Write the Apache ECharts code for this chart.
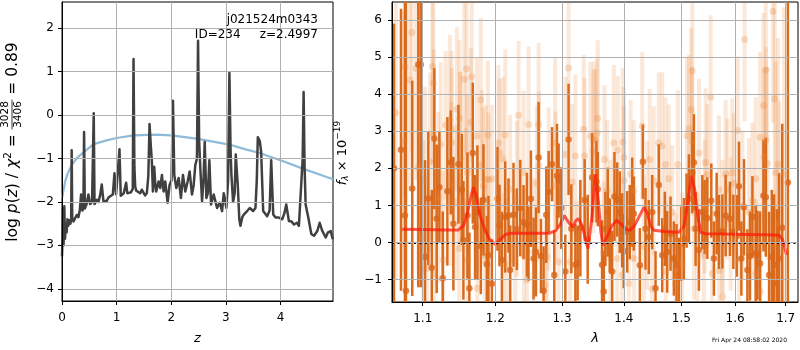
<!DOCTYPE html>
<html><head><meta charset="utf-8">
<script src="https://cdn.jsdelivr.net/npm/echarts@6/dist/echarts.min.js"></script>
<style>html,body{margin:0;padding:0;background:#fff}#c{width:800px;height:350px}</style>
</head><body><div id="c"></div><script>
const FONT = 'DejaVu Sans';

// ---------- left panel: log p(z) ----------
const zGrid = [0.000,0.008,0.018,0.028,0.042,0.055,0.07,0.085,0.10,0.115,0.135,0.155,0.168,0.177,0.187,0.21,0.239,0.27,0.30,0.325,0.349,0.373,0.392,0.404,0.418,0.45,0.483,0.514,0.55,0.567,0.581,0.595,0.636,0.667,0.697,0.728,0.758,0.79,0.82,0.85,0.88,0.93,0.96,0.99,1.02,1.052,1.075,1.095,1.13,1.156,1.174,1.195,1.217,1.26,1.295,1.309,1.325,1.34,1.358,1.39,1.431,1.46,1.492,1.52,1.553,1.58,1.602,1.625,1.645,1.664,1.688,1.705,1.725,1.768,1.798,1.829,1.859,1.89,1.933,1.969,2.005,2.031,2.055,2.092,2.135,2.177,2.214,2.257,2.3,2.336,2.379,2.41,2.44,2.47,2.49,2.51,2.532,2.563,2.59,2.612,2.642,2.67,2.697,2.728,2.777,2.838,2.887,2.93,2.96,3.009,3.04,3.064,3.085,3.101,3.131,3.16,3.18,3.217,3.245,3.266,3.3,3.327,3.388,3.437,3.498,3.541,3.565,3.584,3.62,3.645,3.682,3.755,3.8,3.829,3.866,3.908,3.97,4.031,4.073,4.104,4.153,4.2,4.245,4.3,4.336,4.367,4.405,4.422,4.44,4.459,4.508,4.563,4.612,4.673,4.716,4.765,4.826,4.869,4.918,4.948,4.96];
const logPz = [-3.25,-2.9,-2.15,-3.0,-2.1,-2.85,-2.5,-2.7,-2.4,-2.55,-2.42,-2.5,-2.4,-0.81,-2.35,-2.45,-2.42,-2.3,-2.35,-2.2,-1.83,-2.2,-2.1,-0.39,-2.15,-2.05,-1.83,-2.05,-2.0,-2.02,0.04,-2.05,-1.95,-2.0,-1.85,-1.6,-1.98,-1.95,-1.98,-1.9,-1.9,-1.83,-1.34,-1.83,-1.85,-0.79,-1.86,-1.86,-1.8,-1.77,-1.56,-1.8,-1.8,-1.78,-1.7,1.29,-1.2,-1.65,-1.74,-1.78,-1.8,-1.72,-1.68,-1.85,-1.8,-1.4,-0.21,-0.7,-1.08,-1.76,-1.19,-1.55,-1.76,-1.53,-1.68,-1.38,-1.76,-1.53,-2.02,-1.61,-1.5,0.33,-1.38,-1.68,-1.45,-1.91,-1.38,-1.76,-1.53,-1.30,-1.83,-1.61,-1.15,-1.0,1.71,-0.6,-1.23,-1.98,-1.5,-0.62,-1.91,-1.8,-1.04,-2.06,-1.83,-2.14,-2.02,-2.21,-1.80,-2.14,-1.5,0.97,-0.8,-1.38,-2.0,-1.8,-0.91,-1.61,-2.4,-2.55,-2.35,-2.29,-2.21,-2.14,-2.21,-2.14,-1.5,-0.51,-0.6,-0.85,-2.21,-2.33,-2.2,-1.04,-2.29,-2.36,-2.36,-2.40,-2.25,-2.06,-2.44,-2.45,-2.52,-2.48,-2.55,-2.59,-1.0,0.53,-1.2,-2.06,-2.36,-2.74,-2.78,-2.67,-2.48,-2.67,-2.82,-2.70,-2.67,-2.82,-2.86];
const zPrior = [0,0.024,0.06,0.1,0.177,0.28,0.404,0.58,0.8,1.0,1.31,1.71,2.0,2.49,3.06,3.36,3.6,4.0,4.42,4.96];
const logPrior = [-1.91,-1.76,-1.52,-1.36,-1.15,-0.98,-0.85,-0.67,-0.59,-0.53,-0.47,-0.45,-0.47,-0.55,-0.68,-0.79,-0.87,-1.04,-1.24,-1.48];
const zTicks = [0,1,2,3,4];
const pzTicks = [-4,-3,-2,-1,0,1,2];

// ---------- right panel: spectrum ----------
const lamTicks = [1.1,1.2,1.3,1.4,1.5,1.6,1.7];
const fluxTicks = [-1,0,1,2,3,4,5,6];
const modelLam = [1.0733,1.10,1.13,1.148,1.155,1.160,1.165,1.169,1.173,1.178,1.185,1.192,1.200,1.208,1.215,1.222,1.25,1.28,1.29,1.2975,1.3035,1.310,1.317,1.322,1.326,1.332,1.337,1.341,1.347,1.353,1.358,1.362,1.3657,1.372,1.380,1.388,1.397,1.405,1.410,1.418,1.426,1.434,1.440,1.446,1.4514,1.47,1.4956,1.505,1.5136,1.518,1.524,1.530,1.535,1.545,1.58,1.62,1.66,1.6866,1.693,1.698,1.702];
const modelFlux = [0.36,0.35,0.34,0.34,0.45,0.75,1.2,1.49,1.25,0.75,0.35,0.08,-0.05,0.1,0.22,0.25,0.25,0.25,0.32,0.5,0.73,0.55,0.42,0.6,0.64,0.45,0.1,-0.16,0.6,1.84,1.1,0.3,-0.07,0.15,0.45,0.6,0.48,0.35,0.33,0.45,0.7,0.95,0.8,0.45,0.33,0.3,0.28,0.45,1.3,1.8,1.45,0.7,0.28,0.24,0.23,0.22,0.21,0.2,0.1,-0.15,-0.34];

const darkLam = [1.0627,1.0717,1.0768,1.0781,1.0863,1.0942,1.0974,1.1030,1.1074,1.1120,1.1154,1.1186,1.1222,1.1267,1.1330,1.1376,1.1412,1.1481,1.1528,1.1550,1.1606,1.1633,1.1681,1.1713,1.1746,1.1794,1.1831,1.1879,1.1902,1.1951,1.2032,1.2061,1.2096,1.2144,1.2192,1.2217,1.2265,1.2315,1.2365,1.2414,1.2464,1.2488,1.2524,1.2564,1.2600,1.2640,1.2676,1.2716,1.2757,1.2793,1.2845,1.2880,1.2922,1.2947,1.2989,1.3052,1.3103,1.3146,1.3210,1.3246,1.3289,1.3358,1.3407,1.3478,1.3548,1.3569,1.3640,1.3667,1.3694,1.3733,1.3766,1.3806,1.3844,1.3889,1.3932,1.3973,1.4000,1.4057,1.4101,1.4142,1.4169,1.4272,1.4323,1.4369,1.4426,1.4485,1.4543,1.4600,1.4660,1.4706,1.4748,1.4807,1.4866,1.4914,1.4956,1.4999,1.5046,1.5095,1.5137,1.5199,1.5228,1.5259,1.5320,1.5383,1.5425,1.5475,1.5549,1.5598,1.5649,1.5692,1.5757,1.5819,1.5901,1.5966,1.6030,1.6074,1.6120,1.6171,1.6237,1.6288,1.6335,1.6400,1.6434,1.6485,1.6553,1.6599,1.6665,1.6719,1.6765,1.6820,1.6866,1.6930,1.7045];
const darkFlux = [2.0,2.5,0.73,-1.3,1.46,4.8,4.8,-0.38,1.19,-0.68,2.80,0.64,1.49,-0.96,1.38,2.16,0.51,2.11,1.43,0.06,0.73,-1.23,2.41,0.42,0.82,-0.09,1.15,-0.58,-0.34,-1.11,1.18,0.46,-0.47,0.69,0.73,-0.74,0.75,0.36,0.93,0.55,0.48,-0.03,1.18,-0.43,-0.25,2.29,-0.36,-1.30,0.75,1.37,2.11,-0.87,1.80,1.67,0.93,-0.78,2.78,0.37,-0.60,-0.55,0.39,1.15,0.09,1.75,1.64,1.44,-0.60,-1.32,0.37,0.82,0.19,-0.78,1.24,1.16,0.82,0.33,-0.23,0.29,0.55,1.09,0.78,-0.61,2.18,0.37,0.15,0.82,-1.23,1.55,-0.34,0.37,-0.25,0.24,-0.43,-0.60,-0.87,-0.03,0.10,0.86,1.18,1.89,2.16,0.37,-0.20,0.82,0.69,0.66,1.13,-0.43,0.78,0.29,0.30,0.73,0.64,0.29,0.18,1.52,-0.43,0.95,-0.74,-0.36,0.69,-0.29,-0.34,-0.56,1.26,1.22,-0.87,-0.38,-0.60,-1.10,-0.43,0.40,1.62];
const darkErr = [3.9,3.8,9,9,2.9,6,6,2.6,1.8,2.1,1.9,2.0,1.5,1.8,2.0,1.4,1.8,1.6,1.5,1.6,1.7,1.5,1.9,1.4,1.8,1.3,1.5,1.3,1.6,1.2,1.4,1.1,1.3,1.5,1.0,1.2,1.4,1.1,1.3,1.0,1.4,1.0,1.3,1.1,1.2,1.5,1.0,1.2,1.3,1.1,1.0,1.2,1.4,1.0,1.1,1.0,1.5,1.2,1.1,1.0,1.3,1.1,1.2,1.2,1.1,1.0,1.2,1.1,1.0,1.2,1.0,1.1,1.2,1.0,1.1,1.0,1.0,1.1,1.0,1.2,1.0,1.0,1.0,1.1,1.0,1.0,1.0,1.1,1.0,1.0,1.1,1.0,1.0,1.1,1.0,1.0,1.1,1.0,1.2,1.1,1.3,1.0,1.1,1.0,1.0,1.1,1.0,1.0,1.1,1.0,1.0,1.1,1.0,1.0,1.1,1.2,1.0,1.3,1.1,1.2,1.1,1.3,1.2,1.4,1.5,1.6,1.7,1.8,1.9,2.0,2.3,2.8,9];

const lightLam = [1.0650,1.0746,1.0768,1.0834,1.0856,1.0912,1.0942,1.1008,1.1030,1.1053,1.1097,1.1127,1.1141,1.1145,1.1150,1.1207,1.1239,1.1274,1.1306,1.1363,1.1383,1.1386,1.1390,1.1452,1.1460,1.1493,1.1496,1.1505,1.1509,1.1563,1.1585,1.1593,1.1606,1.1610,1.1652,1.1665,1.1740,1.1744,1.1794,1.1807,1.1829,1.1852,1.1865,1.1895,1.1904,1.1951,1.2046,1.2061,1.2110,1.2118,1.2144,1.2168,1.2217,1.2290,1.2315,1.2340,1.2414,1.2418,1.2464,1.2488,1.2564,1.2615,1.2640,1.2645,1.2743,1.2767,1.2793,1.2893,1.2897,1.2947,1.3052,1.3103,1.3129,1.3157,1.3210,1.3237,1.3342,1.3358,1.3451,1.3500,1.3505,1.3533,1.3561,1.3569,1.3667,1.3678,1.3722,1.3777,1.3833,1.3889,1.3900,1.3973,1.3983,1.4000,1.4005,1.4085,1.4114,1.4169,1.4174,1.4313,1.4340,1.4397,1.4442,1.4485,1.4511,1.4600,1.4660,1.4718,1.4722,1.4777,1.4836,1.4896,1.4937,1.5016,1.5104,1.5137,1.5180,1.5192,1.5199,1.5228,1.5290,1.5320,1.5411,1.5425,1.5444,1.5475,1.5536,1.5567,1.5692,1.5696,1.5757,1.5761,1.5819,1.5852,1.5914,1.5945,1.5977,1.6052,1.6074,1.6139,1.6182,1.6268,1.6335,1.6400,1.6404,1.6485,1.6489,1.6553,1.6565,1.6599,1.6603,1.6633,1.6744,1.6778,1.6798,1.6844,1.6866,1.6966];
const lightFlux = [3.5,2.73,4.74,4.38,5.66,4.69,2.03,0.15,1.70,-0.70,2.18,4.74,4.30,2.90,-0.83,1.22,2.65,-0.47,3.16,3.30,1.58,3.06,2.70,1.09,3.60,-0.16,3.35,2.60,2.30,4.40,1.09,4.68,1.89,-0.47,3.24,4.47,2.87,-1.23,3.85,2.10,1.53,-0.34,1.70,2.90,1.70,1.71,2.68,2.41,2.25,-0.56,2.90,-0.61,1.44,-0.47,1.18,3.43,1.89,-0.34,-1.00,3.18,-0.25,1.60,3.18,2.07,-1.14,-0.38,1.44,2.68,1.53,-0.52,2.37,4.70,-0.52,1.63,2.33,-0.78,3.05,2.33,2.87,2.46,2.78,2.78,2.96,3.35,-0.25,2.24,1.40,0.24,2.68,-0.43,2.49,-0.87,2.71,2.29,1.67,-1.10,1.85,1.40,-0.43,3.14,-0.10,0.73,2.24,-1.25,1.67,2.68,2.60,2.10,-0.78,1.72,0.82,-1.10,2.10,-0.56,2.88,3.06,3.58,2.73,4.62,0.37,-0.47,2.41,-0.34,0.97,2.16,1.83,3.92,-0.83,1.42,-0.75,0.42,-1.46,1.85,1.44,0.50,1.88,1.60,3.02,-0.47,0.99,5.47,0.82,1.13,1.72,-0.83,2.84,-1.32,3.69,2.30,4.65,2.76,2.13,6.23,3.87,1.88,2.11,0.50,1.84];
const lightErr = [4.5,3.5,3.5,3.0,3.2,3.0,2.8,2.6,2.5,2.3,2.4,1.9,2.2,2.3,2.0,2.3,2.2,2.4,2.0,2.3,2.2,2.1,2.0,2.1,2.2,2.0,2.1,2.0,2.3,2.4,2.0,2.3,2.1,1.9,2.0,2.3,2.1,1.8,2.2,2.0,2.1,1.9,2.0,2.0,1.8,2.0,2.1,2.0,2.2,1.9,2.3,1.8,2.0,1.9,2.1,2.0,2.2,1.8,1.9,2.1,2.0,2.1,2.2,2.0,1.9,2.0,2.2,2.3,2.0,1.9,2.1,1.8,2.0,2.1,2.2,1.9,2.0,2.1,2.0,2.2,2.1,1.9,2.0,2.1,1.9,2.0,1.9,2.0,2.1,1.8,2.0,1.9,2.0,1.9,2.0,1.8,2.0,1.9,1.8,2.0,1.9,2.0,1.9,1.8,2.0,1.9,2.0,1.8,1.9,2.0,1.8,1.9,2.0,1.9,2.1,2.0,2.2,2.0,2.4,1.9,1.8,2.0,1.9,1.8,2.0,1.9,2.2,1.8,2.0,1.9,1.8,1.9,2.0,1.9,1.8,2.0,1.9,2.0,1.9,2.0,2.2,2.0,2.1,2.2,2.0,2.3,2.1,2.5,2.4,2.7,2.5,2.6,3.0,3.2,3.0,3.4,3.3,4.5];

// ---------- helpers ----------
const minus = v => (v < 0 ? '\u2212' + Math.abs(v) : String(v));
function axisBase(ticks, fmt, margin) {
  return {
    axisLine: {show: true, onZero: false, lineStyle: {color: '#000', width: 1}},
    axisTick: {show: true, length: 4, customValues: ticks, lineStyle: {color: '#000', width: 1}},
    axisLabel: {customValues: ticks, formatter: fmt, color: '#000', fontFamily: FONT, fontSize: 12, margin: margin},
    splitLine: {show: true, lineStyle: {color: '#b0b0b0', width: 1}},
    z: 10
  };
}
const ctx = document.createElement('canvas').getContext('2d');
function tw(text, size, italic) { ctx.font = (italic ? 'italic ' : '') + size + 'px "' + FONT + '"'; return ctx.measureText(text).width; }
function mathLabel(pieces, cx, cy, base) {
  let x = 0; const kids = [];
  pieces.forEach(p => {
    const s = p.s || base;
    if (p.frac) {
      const w = Math.max(tw(p.frac[0], s), tw(p.frac[1], s)) + 3;
      kids.push({type: 'text', x: x + w / 2, y: -2, style: {text: p.frac[0], fontSize: s, fontFamily: FONT, fill: '#000', align: 'center', verticalAlign: 'bottom'}});
      kids.push({type: 'text', x: x + w / 2, y: 0, style: {text: p.frac[1], fontSize: s, fontFamily: FONT, fill: '#000', align: 'center', verticalAlign: 'top'}});
      kids.push({type: 'line', shape: {x1: x, y1: -1, x2: x + w, y2: -1}, style: {stroke: '#000', lineWidth: 0.8}});
      x += w;
    } else {
      kids.push({type: 'text', x: x, y: p.dy || 0, style: {text: p.t, fontSize: s, fontFamily: FONT, fontStyle: p.i ? 'italic' : 'normal', fill: '#000', align: 'left', verticalAlign: 'middle'}});
      x += tw(p.t, s, p.i);
    }
  });
  const half = x / 2;
  kids.forEach(k => { if (k.type === 'line') { k.shape.x1 -= half; k.shape.x2 -= half; } else { k.x -= half; } });
  return {type: 'group', x: cx, y: cy, rotation: Math.PI / 2, children: kids};
}

const log10 = Math.log10;
function errBars(lam, flux, err, color, width) {
  return {
    type: 'custom', xAxisIndex: 1, yAxisIndex: 1, clip: true, silent: true,
    data: lam.map((l, i) => [log10(l), flux[i], err[i]]),
    encode: {x: 0, y: 1},
    renderItem: (params, api) => {
      const x = api.value(0), y = api.value(1), e = api.value(2);
      const a = api.coord([x, y + e]), b = api.coord([x, y - e]);
      return {type: 'rect', shape: {x: a[0] - width / 2, y: a[1], width: width, height: b[1] - a[1]}, style: {fill: color}};
    }
  };
}
const nameStyle = {fontFamily: FONT, fontSize: 13, fontStyle: 'italic', color: '#000'};

const chart = echarts.init(document.getElementById('c'), null, {renderer: 'canvas'});
chart.setOption({
  animation: false,
  backgroundColor: '#fff',
  grid: [
    {left: 62, top: 2, width: 271, height: 302, show: true, borderColor: '#000', borderWidth: 1, backgroundColor: 'transparent'},
    {left: 392, top: 2, width: 406, height: 302, show: true, borderColor: '#000', borderWidth: 1, backgroundColor: 'transparent'}
  ],
  xAxis: [
    Object.assign(axisBase(zTicks, v => String(v), 11), {type: 'value', gridIndex: 0, min: 0, max: 4.96,
      name: 'z', nameLocation: 'middle', nameGap: 31, nameTextStyle: nameStyle}),
    Object.assign(axisBase(lamTicks.map(log10), v => Math.pow(10, v).toFixed(1), 11), {type: 'value', gridIndex: 1, min: log10(1.0602), max: log10(1.7253),
      name: 'λ', nameLocation: 'middle', nameGap: 30, nameTextStyle: nameStyle})
  ],
  yAxis: [
    Object.assign(axisBase(pzTicks, minus, 8), {type: 'value', gridIndex: 0, min: -4.28, max: 2.6}),
    Object.assign(axisBase(fluxTicks, minus, 10), {type: 'value', gridIndex: 1, min: -1.6, max: 6.48})
  ],
  graphic: [
    mathLabel([{t: 'log'}, {t: ' '}, {t: 'p', i: 1}, {t: '('}, {t: 'z', i: 1}, {t: ')'}, {t: ' / '}, {t: 'χ', i: 1}, {t: '2', s: 10.5, dy: -5}, {t: ' = '}, {frac: ['3028', '3406'], s: 10.5}, {t: ' = '}, {t: '0.89'}], 13, 142, 15.5),
    mathLabel([{t: 'f', i: 1}, {t: 'λ', s: 9, i: 1, dy: 3}, {t: ' × 10'}, {t: '−19', s: 9, dy: -5}], 343, 153, 13),
    {type: 'text', x: 318, y: 20, style: {text: 'j021524m0343', fontSize: 12, fontFamily: FONT, fill: '#000', align: 'right', verticalAlign: 'middle'}, z: 20},
    {type: 'text', x: 318, y: 35, style: {text: 'ID=234     z=2.4997', fontSize: 12, fontFamily: FONT, fill: '#000', align: 'right', verticalAlign: 'middle'}, z: 20},
    {type: 'text', x: 787, y: 340, style: {text: 'Fri Apr 24 08:58:02 2020', fontSize: 6, fontFamily: FONT, fill: '#000', align: 'right', verticalAlign: 'middle'}}
  ],
  series: [
    {type: 'line', xAxisIndex: 0, yAxisIndex: 0, data: zPrior.map((z, i) => [z, logPrior[i]]), showSymbol: false, silent: true,
      lineStyle: {color: '#8fbbda', width: 2.2}},
    {type: 'line', xAxisIndex: 0, yAxisIndex: 0, data: zGrid.map((z, i) => [z, logPz[i]]), showSymbol: false, silent: true,
      lineStyle: {color: '#404040', width: 2.5, join: 'round'}},
    errBars(lightLam, lightFlux, lightErr, 'rgba(235,125,45,0.18)', 4),
    {type: 'scatter', xAxisIndex: 1, yAxisIndex: 1, data: lightLam.map((l, i) => [log10(l), lightFlux[i]]), symbolSize: 7, silent: true,
      itemStyle: {color: 'rgba(235,130,50,0.32)'}},
    errBars(darkLam, darkFlux, darkErr, '#da6a1c', 2.5),
    {type: 'scatter', xAxisIndex: 1, yAxisIndex: 1, data: darkLam.map((l, i) => [log10(l), darkFlux[i]]), symbolSize: 6.5, silent: true,
      itemStyle: {color: '#d9661a'}},
    {type: 'line', xAxisIndex: 1, yAxisIndex: 1, data: modelLam.map((l, i) => [log10(l), modelFlux[i]]), showSymbol: false, silent: true,
      lineStyle: {color: 'rgba(255,25,10,0.72)', width: 3},
      markLine: {silent: true, symbol: 'none', label: {show: false}, animation: false,
        lineStyle: {color: '#000', type: [2, 3.5], width: 2}, data: [{yAxis: 0}]}}
  ]
});
</script></body></html>
